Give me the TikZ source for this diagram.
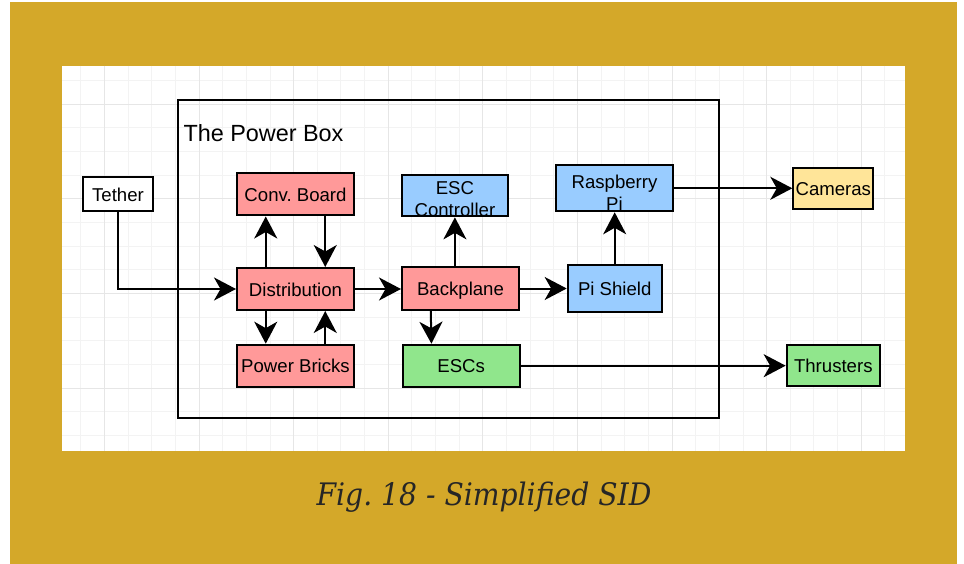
\documentclass[tikz,border=0pt]{standalone}
\usepackage{fontspec}
\setmainfont{Liberation Sans}
\newfontfamily\captionfont[FakeStretch=0.91]{DejaVu Serif}
\usepackage{tikz}
\usetikzlibrary{positioning, arrows.meta, calc}
\usepackage{xcolor}

\definecolor{gold}{HTML}{D4A829}
\definecolor{boxred}{HTML}{FF9999}
\definecolor{boxblue}{HTML}{99CCFF}
\definecolor{boxgreen}{HTML}{90E68C}
\definecolor{boxyellow}{HTML}{FFE599}
\definecolor{gridminor}{HTML}{F3F3F3}
\definecolor{gridmajor}{HTML}{E6E6E6}
\definecolor{captiongray}{HTML}{262626}

\newcommand{\boxfont}{\fontsize{18.6bp}{22.5bp}\selectfont}
\newcommand{\titlefont}{\fontsize{23.4bp}{28bp}\selectfont}
\frenchspacing

\begin{document}
\begin{tikzpicture}[
    x=1bp, y=-1bp,
    >={Stealth[length=22bp, width=23bp, inset=6.5bp]},
    block/.style={draw=black, line width=2bp, inner sep=0pt,
        minimum width=117bp, minimum height=42bp,
        text height=14bp, text depth=0bp, font=\boxfont},
    twoline/.style={align=center, text height=0bp, text depth=0bp},
    link/.style={->, line width=2bp},
    gridline/.style={line width=1bp, draw=gridminor}
]

\useasboundingbox (0,0) rectangle (964,564);
\fill[white] (0,0) rectangle (964,564);
\fill[gold] (10,2.5) rectangle (957,564);
\fill[white] (62,66) rectangle (905,451);

\begin{scope}
\clip (62,66) rectangle (905,451);
\foreach \i in {0,...,35}
    \draw[gridline] (80.8+23.65*\i,66) -- (80.8+23.65*\i,451);
\foreach \j in {0,...,15}
    \draw[gridline] (62,80.65+23.65*\j) -- (905,80.65+23.65*\j);
\foreach \i in {1,5,...,33}
    \draw[gridline, draw=gridmajor] (80.8+23.65*\i,66) -- (80.8+23.65*\i,451);
\foreach \j in {1,5,9,13}
    \draw[gridline, draw=gridmajor] (62,80.65+23.65*\j) -- (905,80.65+23.65*\j);
\end{scope}

\node[draw=black, line width=2bp, inner sep=0pt, minimum width=541bp, minimum height=318bp] (powerbox) at (448.5,259) {};
\node[anchor=base west, inner sep=0pt, font=\titlefont] (title) at (183.3,141.5) {The Power Box};

\node[block, fill=white, minimum width=69.5bp, minimum height=34bp] (tether) at (118,194.2) {Tether};

\node[block, fill=boxred] (conv) at (295.5,194.5) {Conv. Board};
\node[block, fill=boxred] (dist) at (295.5,289) {Distribution};
\node[block, fill=boxred] (bricks) at (295.5,365.7) {Power Bricks};

\node[block, twoline, fill=boxblue, text width=105.7bp, minimum width=105.7bp, minimum height=41.3bp, text depth=2.8bp] (escctl) at (454.9,195.7) {ESC\\Controller};
\node[block, fill=boxred] (backplane) at (460.5,288.5) {Backplane};
\node[block, fill=boxgreen] (escs) at (461.2,365.7) {ESCs};

\node[block, twoline, fill=boxblue, text width=117bp, minimum height=46bp] (rpi) at (614.5,188.3) {Raspberry\\Pi};
\node[block, fill=boxblue, minimum width=94bp, minimum height=46.4bp] (pishield) at (614.7,288.5) {Pi Shield};

\node[block, fill=boxyellow, minimum width=80bp, minimum height=40.7bp] (cameras) at (833.3,188.7) {Cameras};
\node[block, fill=boxgreen, minimum width=93.3bp, minimum height=41.3bp] (thrusters) at (833.3,365.7) {Thrusters};

\draw[link] (tether.south) |- (dist.west);

\draw[link] ($(dist.north west)!.25!(dist.north east)$) -- ($(conv.south west)!.25!(conv.south east)$);
\draw[link] ($(conv.south west)!.75!(conv.south east)$) -- ($(dist.north west)!.75!(dist.north east)$);
\draw[link] ($(dist.south west)!.25!(dist.south east)$) -- ($(bricks.north west)!.25!(bricks.north east)$);
\draw[link] ($(bricks.north west)!.75!(bricks.north east)$) -- ($(dist.south west)!.75!(dist.south east)$);

\draw[link] (dist.east) -- (dist.east -| backplane.west);
\draw[link] (backplane.north -| escctl) -- (escctl.south);
\draw[link] ($(backplane.south west)!.25!(backplane.south east)$) -- ($(escs.north west)!.25!(escs.north east)$);
\draw[link] (backplane.east) -- (backplane.east -| pishield.west);
\draw[link] (pishield.north) -- (pishield.north |- rpi.south);
\draw[link] (rpi.east) -- (rpi.east -| cameras.west);
\draw[link] (escs.east) -- (escs.east -| thrusters.west);

\node[anchor=base, inner sep=0pt, text=captiongray, font={\captionfont\itshape\fontsize{31bp}{36bp}\selectfont}] (caption) at (484,505) {Fig. 18 - Simplified SID};

\end{tikzpicture}
\end{document}
